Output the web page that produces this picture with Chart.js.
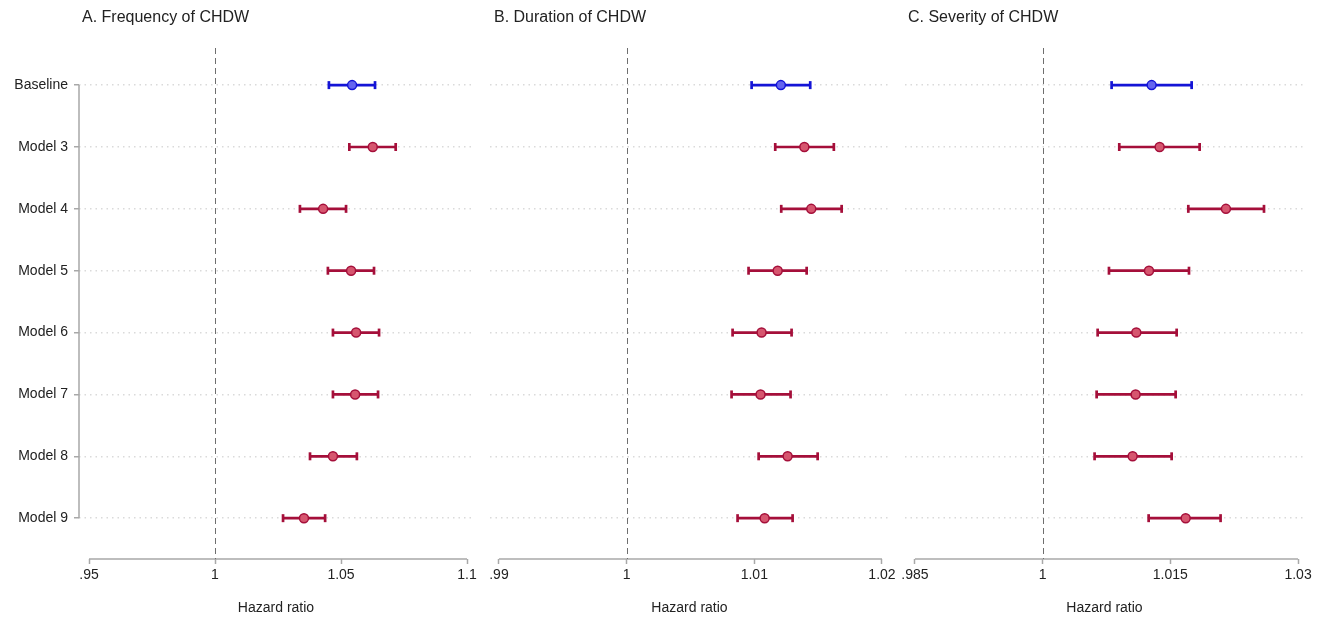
<!DOCTYPE html>
<html>
<head>
<meta charset="utf-8">
<script src="https://cdn.jsdelivr.net/npm/chart.js@4/dist/chart.umd.min.js"></script>
<style>
  body { margin: 0; background: #fff; }
  #wrap { position: relative; width: 1330px; height: 622px; overflow: hidden; }
  .panel { position: absolute; top: 0; height: 622px; }
  .title { position: absolute; top: 8px; font: 16px "Liberation Sans", Arial, sans-serif; color: #222; }
</style>
</head>
<body>
<div id="wrap">
  <div class="panel" style="left:0;width:480px"><canvas id="c1"></canvas></div>
  <div class="panel" style="left:480px;width:430px"><canvas id="c2"></canvas></div>
  <div class="panel" style="left:895px;width:435px"><canvas id="c3"></canvas></div>
  <div class="title" style="left:82px">A. Frequency of CHDW</div>
  <div class="title" style="left:494px">B. Duration of CHDW</div>
  <div class="title" style="left:908px">C. Severity of CHDW</div>
</div>
<script>
// DATA
const models = ["Baseline", "Model 3", "Model 4", "Model 5", "Model 6", "Model 7", "Model 8", "Model 9"];
const refValue = 1;

const freqEst = [1.0544, 1.0626, 1.0429, 1.0540, 1.0560, 1.0556, 1.0468, 1.0353];
const freqLo  = [1.0452, 1.0533, 1.0337, 1.0448, 1.0468, 1.0468, 1.0377, 1.0270];
const freqHi  = [1.0635, 1.0717, 1.0520, 1.0631, 1.0651, 1.0647, 1.0563, 1.0437];

const durEst = [1.01208, 1.01392, 1.01446, 1.01183, 1.01057, 1.01049, 1.01261, 1.01081];
const durLo  = [1.00979, 1.01164, 1.01211, 1.00955, 1.00830, 1.00822, 1.01034, 1.00869];
const durHi  = [1.01438, 1.01623, 1.01684, 1.01410, 1.01292, 1.01284, 1.01496, 1.01300];

const sevEst = [1.01280, 1.01374, 1.02153, 1.01249, 1.01100, 1.01092, 1.01057, 1.01680];
const sevLo  = [1.00810, 1.00900, 1.01711, 1.00779, 1.00646, 1.00634, 1.00610, 1.01245];
const sevHi  = [1.01750, 1.01844, 1.02600, 1.01719, 1.01574, 1.01562, 1.01515, 1.02090];

const freqTicks = [0.95, 1, 1.05, 1.1];
const freqTickLabels = [".95", "1", "1.05", "1.1"];
const durTicks = [0.99, 1, 1.01, 1.02];
const durTickLabels = [".99", "1", "1.01", "1.02"];
const sevTicks = [0.985, 1, 1.015, 1.03];
const sevTickLabels = [".985", "1", "1.015", "1.03"];

Chart.defaults.font.family = '"Liberation Sans", Arial, sans-serif';
Chart.defaults.color = '#222';

// AXIS LINES + REFERENCE LINE
const axesPlugin = {
  id: 'axesLines',
  beforeDatasetsDraw(chart, args, opts) {
    const ctx = chart.ctx;
    const x = chart.scales.x, y = chart.scales.y;
    const area = chart.chartArea;
    ctx.save();
    ctx.strokeStyle = '#a8a8a8';
    ctx.lineWidth = 1.5;
    ctx.beginPath();
    ctx.moveTo(x.getPixelForValue(opts.ticks[0]), area.bottom);
    ctx.lineTo(x.getPixelForValue(opts.ticks[opts.ticks.length - 1]), area.bottom);
    if (opts.showY) {
      ctx.moveTo(area.left, y.getPixelForValue(0));
      ctx.lineTo(area.left, y.getPixelForValue(models.length - 1));
    }
    ctx.stroke();
    ctx.strokeStyle = '#6e6e6e';
    ctx.lineWidth = 1;
    ctx.setLineDash([6, 4]);
    ctx.beginPath();
    const rx = Math.round(x.getPixelForValue(refValue)) + 0.5;
    ctx.moveTo(rx, area.top);
    ctx.lineTo(rx, area.bottom);
    ctx.stroke();
    ctx.restore();
  }
};

function makePanel(id, est, lo, hi, ticks, tickLabels, xmin, xmax, showY, leftWidth, padRight) {
  const datasets = [];
  models.forEach(function(m, i) {
    const col = i === 0 ? '#1414d6' : '#a50f3a';
    datasets.push({
      type: 'line',
      data: [{x: lo[i], y: i}, {x: hi[i], y: i}],
      borderColor: col,
      borderWidth: 2.7,
      pointStyle: 'line',
      pointRotation: 90,
      pointRadius: 4,
      pointBorderWidth: 2.7,
      pointBorderColor: col,
      order: 2
    });
    datasets.push({
      type: 'scatter',
      data: [{x: est[i], y: i}],
      pointRadius: 4.5,
      pointBorderWidth: 1.5,
      pointBorderColor: col,
      pointBackgroundColor: i === 0 ? '#6464f0' : '#d6566f',
      order: 1
    });
  });

  new Chart(document.getElementById(id), {
    type: 'scatter',
    data: { datasets: datasets },
    plugins: [axesPlugin],
    options: {
      responsive: true,
      maintainAspectRatio: false,
      animation: false,
      events: [],
      layout: { padding: { top: 48, right: padRight, bottom: 0, left: 0 } },
      plugins: {
        legend: { display: false },
        tooltip: { enabled: false },
        axesLines: { ticks: ticks, showY: showY }
      },
      scales: {
        x: {
          type: 'linear',
          min: xmin,
          max: xmax,
          border: { display: false },
          grid: {
            display: true,
            drawOnChartArea: false,
            drawTicks: true,
            tickLength: 5,
            tickColor: '#a8a8a8',
            tickWidth: 1.5
          },
          afterBuildTicks: function(scale) {
            scale.ticks = ticks.map(v => ({ value: v }));
          },
          afterFit: function(scale) { scale.height = 63; },
          ticks: {
            autoSkip: false,
            maxRotation: 0,
            padding: 3,
            color: '#222',
            font: { size: 14 },
            callback: function(value) { return tickLabels[ticks.indexOf(value)]; }
          },
          title: {
            display: true,
            text: 'Hazard ratio',
            color: '#222',
            font: { size: 14 },
            padding: { top: 10, bottom: 5 }
          }
        },
        y: {
          type: 'linear',
          reverse: true,
          min: -0.6,
          max: 7.66,
          border: { display: false, dash: [1.5, 4] },
          grid: {
            display: true,
            color: '#dadada',
            lineWidth: 1.5,
            drawTicks: showY,
            tickLength: 5,
            tickColor: '#a8a8a8',
            tickWidth: 1.5,
            tickBorderDash: []
          },
          afterBuildTicks: function(scale) {
            scale.ticks = models.map((m, i) => ({ value: i }));
          },
          afterFit: function(scale) { scale.width = leftWidth; },
          ticks: {
            display: showY,
            padding: 6,
            color: '#222',
            font: { size: 14 },
            callback: function(value) { return models[value]; }
          }
        }
      }
    }
  });
}

makePanel('c1', freqEst, freqLo, freqHi, freqTicks, freqTickLabels, 0.94603, 1.10238, true, 79, 7);
makePanel('c2', durEst, durLo, durHi, durTicks, durTickLabels, 0.98930, 1.02055, false, 10, 21);
makePanel('c3', sevEst, sevLo, sevHi, sevTicks, sevTickLabels, 0.98383, 1.03070, false, 10, 26);
</script>
</body>
</html>
